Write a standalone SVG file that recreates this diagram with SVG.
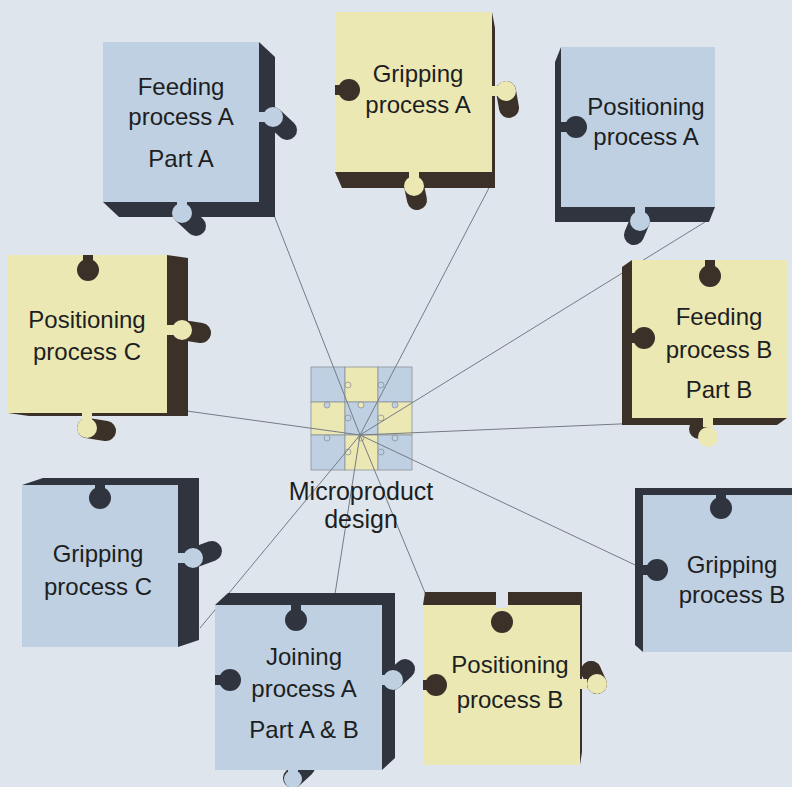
<svg xmlns="http://www.w3.org/2000/svg" width="792" height="787" viewBox="0 0 792 787">
  <style>
    .bg { fill: #dee5ed; }
    .fb { fill: #bed0e1; }
    .fy { fill: #ebe8b3; }
    .sb { fill: #30343f; }
    .sy { fill: #3b3129; }
    .cb { stroke: #30343f; stroke-width: 20; stroke-linecap: round; }
    .cy { stroke: #3b3129; stroke-width: 20; stroke-linecap: round; }
    .gap { fill: #dee5ed; }
    text { font-family: "Liberation Sans", Arial, sans-serif; font-size: 24px; fill: #1d1e22; text-anchor: middle; }
    .conn line { stroke: #767b85; stroke-width: 1; fill: none; }
    .cell { stroke: #8c939c; stroke-width: 0.8; }
    .cb-cell { fill: #bed0e1; }
    .cy-cell { fill: #ebe8b3; }
    .nub { stroke: #8c939c; stroke-width: 0.8; }
  </style>

  <rect class="bg" x="0" y="0" width="792" height="787"/>

  <!-- centre: microproduct design grid -->
  <g id="microproduct-design">
    <rect class="cell cb-cell" x="311" y="367" width="34" height="35"/>
    <rect class="cell cy-cell" x="345" y="367" width="33" height="35"/>
    <rect class="cell cb-cell" x="378" y="367" width="34" height="35"/>
    <rect class="cell cy-cell" x="311" y="402" width="34" height="33"/>
    <rect class="cell cb-cell" x="345" y="402" width="33" height="33"/>
    <rect class="cell cy-cell" x="378" y="402" width="34" height="33"/>
    <rect class="cell cb-cell" x="311" y="435" width="34" height="35"/>
    <rect class="cell cy-cell" x="345" y="435" width="33" height="35"/>
    <rect class="cell cb-cell" x="378" y="435" width="34" height="35"/>
    <circle class="nub cy-cell" cx="348" cy="385" r="3"/>
    <circle class="nub cb-cell" cx="381" cy="385" r="3"/>
    <circle class="nub cb-cell" cx="327" cy="405" r="3"/>
    <circle class="nub cy-cell" cx="361" cy="405" r="3"/>
    <circle class="nub cb-cell" cx="395" cy="405" r="3"/>
    <circle class="nub cb-cell" cx="348" cy="418" r="3"/>
    <circle class="nub cy-cell" cx="381" cy="418" r="3"/>
    <circle class="nub cb-cell" cx="327" cy="438" r="3"/>
    <circle class="nub cy-cell" cx="361" cy="438" r="3"/>
    <circle class="nub cb-cell" cx="395" cy="438" r="3"/>
    <circle class="nub cy-cell" cx="348" cy="452" r="3"/>
    <circle class="nub cb-cell" cx="381" cy="452" r="3"/>
  </g>

  <!-- connectors from the design grid to each process -->
  <g class="conn" id="connectors">
    <line x1="360" y1="435" x2="270" y2="205"/>
    <line x1="360" y1="435" x2="490" y2="186"/>
    <line x1="360" y1="435" x2="705" y2="222"/>
    <line x1="360" y1="435" x2="690" y2="421"/>
    <line x1="360" y1="435" x2="650" y2="572"/>
    <line x1="360" y1="435" x2="428" y2="600"/>
    <line x1="360" y1="435" x2="335" y2="594"/>
    <line x1="360" y1="435" x2="200" y2="628"/>
    <line x1="360" y1="435" x2="165" y2="408"/>
  </g>

  <g id="microproduct-label">
    <text x="361" y="500" style="font-size:25px">Microproduct</text>
    <text x="361" y="528" style="font-size:25px">design</text>
  </g>

  <!-- Feeding process A -->
  <g id="feeding-a">
    <path class="sb" d="M103 42 L259 42 L275 57 L275 217 L119 217 L103 202 Z"/>
    <line class="cb" x1="273" y1="117" x2="287" y2="130"/>
    <line class="cb" x1="182" y1="213" x2="196" y2="226"/>
    <rect class="fb" x="103" y="42" width="156" height="160"/>
    <rect class="fb" x="258" y="112" width="8" height="10"/>
    <circle class="fb" cx="273" cy="117" r="10"/>
    <rect class="fb" x="177" y="201" width="10" height="6"/>
    <circle class="fb" cx="182" cy="213" r="10"/>
    <text x="181" y="95">Feeding</text>
    <text x="181" y="125">process A</text>
    <text x="181" y="167">Part A</text>
  </g>

  <!-- Gripping process A -->
  <g id="gripping-a">
    <path class="sy" d="M335 12 L492 12 L495 28 L495 188 L342 188 L335 172 Z"/>
    <line class="cy" x1="506" y1="91" x2="509" y2="108"/>
    <line class="cy" x1="414" y1="186" x2="417" y2="200"/>
    <rect class="fy" x="335" y="12" width="157" height="160"/>
    <rect class="fy" x="491" y="86" width="8" height="10"/>
    <circle class="fy" cx="506" cy="91" r="10"/>
    <rect class="fy" x="409" y="171" width="10" height="8"/>
    <circle class="fy" cx="414" cy="186" r="10"/>
    <rect class="sy" x="335" y="85" width="8" height="10"/>
    <circle class="sy" cx="349" cy="90" r="11"/>
    <text x="418" y="82">Gripping</text>
    <text x="418" y="113">process A</text>
  </g>

  <!-- Positioning process A -->
  <g id="positioning-a">
    <path class="sb" d="M561 47 L715 47 L715 207 L709 222 L555 222 L555 62 Z"/>
    <line class="cb" x1="640" y1="221" x2="634" y2="235"/>
    <rect class="fb" x="561" y="47" width="154" height="160"/>
    <rect class="fb" x="635" y="206" width="10" height="8"/>
    <circle class="fb" cx="640" cy="221" r="10"/>
    <rect class="sb" x="561" y="122" width="8" height="10"/>
    <circle class="sb" cx="576" cy="127" r="11"/>
    <text x="646" y="115">Positioning</text>
    <text x="646" y="145">process A</text>
  </g>

  <!-- Positioning process C -->
  <g id="positioning-c">
    <path class="sy" d="M8 255 L167 255 L188 258 L188 416 L29 416 L8 413 Z"/>
    <line class="cy" x1="182" y1="330" x2="201" y2="333"/>
    <line class="cy" x1="87" y1="428" x2="106" y2="431"/>
    <rect class="fy" x="8" y="255" width="159" height="158"/>
    <rect class="fy" x="166" y="325" width="8" height="10"/>
    <circle class="fy" cx="182" cy="330" r="10"/>
    <rect class="fy" x="82" y="412" width="10" height="8"/>
    <circle class="fy" cx="87" cy="428" r="10"/>
    <rect class="sy" x="83" y="255" width="10" height="8"/>
    <circle class="sy" cx="88" cy="270" r="11"/>
    <text x="87" y="328">Positioning</text>
    <text x="87" y="360">process C</text>
  </g>

  <!-- Feeding process B -->
  <g id="feeding-b">
    <path class="sy" d="M632 260 L787 260 L787 418 L777 425 L622 425 L622 267 Z"/>
    <circle class="sy" cx="699" cy="429" r="10"/>
    <rect class="fy" x="632" y="260" width="155" height="158"/>
    <rect class="fy" x="703" y="417" width="10" height="10"/>
    <circle class="fy" cx="708" cy="437" r="10"/>
    <rect class="sy" x="705" y="260" width="10" height="8"/>
    <circle class="sy" cx="710" cy="276" r="11"/>
    <rect class="sy" x="632" y="333" width="8" height="10"/>
    <circle class="sy" cx="644" cy="338" r="11"/>
    <text x="719" y="325">Feeding</text>
    <text x="719" y="358">process B</text>
    <text x="719" y="398">Part B</text>
  </g>

  <!-- Gripping process C -->
  <g id="gripping-c">
    <path class="sb" d="M22 485 L43 478 L199 478 L199 640 L178 647 L22 647 Z"/>
    <line class="cb" x1="193" y1="558" x2="212" y2="551"/>
    <rect class="fb" x="22" y="485" width="156" height="162"/>
    <rect class="fb" x="177" y="553" width="8" height="10"/>
    <circle class="fb" cx="193" cy="558" r="10"/>
    <rect class="sb" x="95" y="485" width="10" height="8"/>
    <circle class="sb" cx="100" cy="498" r="11"/>
    <text x="98" y="562">Gripping</text>
    <text x="98" y="595">process C</text>
  </g>

  <!-- Gripping process B -->
  <g id="gripping-b">
    <path class="sb" d="M635 488 L800 488 L800 652 L643 652 L635 645 Z"/>
    <rect class="fb" x="643" y="495" width="157" height="157"/>
    <rect class="sb" x="716" y="495" width="10" height="8"/>
    <circle class="sb" cx="721" cy="508" r="11"/>
    <rect class="sb" x="643" y="565" width="8" height="10"/>
    <circle class="sb" cx="657" cy="570" r="11"/>
    <text x="732" y="573">Gripping</text>
    <text x="732" y="603">process B</text>
  </g>

  <!-- Joining process A -->
  <g id="joining-a">
    <path class="sb" d="M215 605 L228 593 L395 593 L395 758 L382 770 L215 770 Z"/>
    <line class="cb" x1="393" y1="680" x2="405" y2="669"/>
    <line class="cb" x1="293" y1="778" x2="305" y2="767"/>
    <rect class="fb" x="215" y="605" width="167" height="165"/>
    <rect class="fb" x="381" y="675" width="6" height="10"/>
    <circle class="fb" cx="393" cy="680" r="10"/>
    <rect class="fb" x="288" y="769" width="10" height="5"/>
    <circle class="fb" cx="293" cy="779" r="9"/>
    <rect class="sb" x="291" y="605" width="10" height="8"/>
    <circle class="sb" cx="296" cy="620" r="11"/>
    <rect class="sb" x="215" y="675" width="8" height="10"/>
    <circle class="sb" cx="230" cy="680" r="11"/>
    <text x="304" y="665">Joining</text>
    <text x="304" y="697">process A</text>
    <text x="304" y="738">Part A &amp; B</text>
  </g>

  <!-- Positioning process B -->
  <g id="positioning-b">
    <path class="sy" d="M423 605 L425 592 L582 592 L582 752 L580 765 L423 765 Z"/>
    <circle class="sy" cx="591" cy="671" r="10"/>
    <line class="cy" x1="597" y1="684" x2="591" y2="671"/>
    <rect class="fy" x="423" y="605" width="157" height="160"/>
    <rect class="fy" x="579" y="679" width="8" height="10"/>
    <circle class="fy" cx="597" cy="684" r="10"/>
    <rect class="gap" x="496" y="590" width="12" height="18"/>
    <circle class="sy" cx="502" cy="622" r="11"/>
    <rect class="sy" x="423" y="680" width="8" height="10"/>
    <circle class="sy" cx="436" cy="685" r="11"/>
    <text x="510" y="673">Positioning</text>
    <text x="510" y="708">process B</text>
  </g>
</svg>
